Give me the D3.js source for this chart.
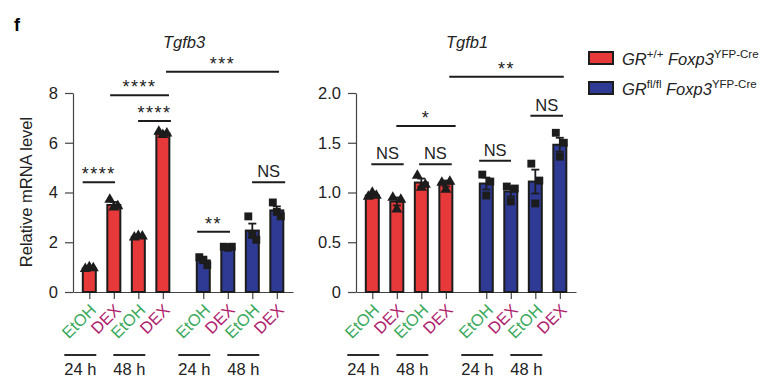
<!DOCTYPE html>
<html>
<head>
<meta charset="utf-8">
<script src="https://cdn.jsdelivr.net/npm/d3@7"></script>
<style>
  body { margin: 0; background: #fff; }
  svg { font-family: "Liberation Sans", Arial, sans-serif; }
</style>
</head>
<body>
<div id="chart"></div>
<script>
// conditions, left to right, same for both panels
const conditions = ["EtOH", "DEX", "EtOH", "DEX", "EtOH", "DEX", "EtOH", "DEX"];
const genotype = ["wt", "wt", "wt", "wt", "ko", "ko", "ko", "ko"];
const timeLabels = ["24 h", "48 h", "24 h", "48 h"];

// Tgfb3
const tgfb3Mean = [0.95, 3.5, 2.22, 6.38, 1.27, 1.8, 2.47, 3.28];
const tgfb3Err = [0.04, 0.12, 0.03, 0.06, 0.11, 0.04, 0.28, 0.16];
const tgfb3Points = [
    [0.93, 1.0, 0.96],
    [3.72, 3.4, 3.45],
    [2.2, 2.26, 2.24],
    [6.45, 6.32, 6.38],
    [1.4, 1.3, 1.08],
    [1.82, 1.78, 1.82],
    [3.04, 2.3, 2.1],
    [3.6, 3.22, 3.04]
];
const tgfb3Ticks = [0, 2, 4, 6, 8];

// Tgfb1
const tgfb1Mean = [0.97, 0.91, 1.1, 1.09, 1.09, 1.01, 1.11, 1.48];
const tgfb1Err = [0.02, 0.04, 0.04, 0.03, 0.06, 0.05, 0.12, 0.07];
const tgfb1Points = [
    [0.96, 1.0, 0.97],
    [0.95, 0.83, 0.93],
    [1.17, 1.05, 1.08],
    [1.1, 1.03, 1.11],
    [1.18, 0.97, 1.11],
    [1.06, 0.91, 1.04],
    [1.29, 0.89, 1.12],
    [1.6, 1.36, 1.5]
];
const tgfb1Ticks = [0, 0.5, 1.0, 1.5, 2.0];

// significance brackets: from / to in bar-slot units, level in data units
const tgfb3Sig = [
    { from: -0.27, to: 1.05, level: 4.41, label: "****" },
    { from: 1.99, to: 3.33, level: 6.87, label: "****" },
    { from: 0.85, to: 3.25, level: 7.91, label: "****" },
    { from: 3.13, to: 7.74, level: 8.85, label: "***" },
    { from: 4.4, to: 5.74, level: 2.42, label: "**" },
    { from: 6.64, to: 7.99, level: 4.41, label: "NS" }
];
const tgfb1Sig = [
    { from: -0.04, to: 1.28, level: 1.283, label: "NS" },
    { from: 1.91, to: 3.24, level: 1.283, label: "NS" },
    { from: 4.36, to: 5.66, level: 1.32, label: "NS" },
    { from: 0.98, to: 3.4, level: 1.668, label: "*" },
    { from: 3.14, to: 7.81, level: 2.164, label: "**" },
    { from: 6.45, to: 7.78, level: 1.772, label: "NS" }
];

const slots = [0, 1, 2, 3, 4.65, 5.65, 6.65, 7.65];
const colors = { wt: "#e8393a", ko: "#2e3a94" };
const labelColors = { EtOH: "#3aa95c", DEX: "#b01d6e" };
const ink = "#1c1c1c";

const svg = d3.select("#chart")
    .append("svg")
    .attr("width", 769)
    .attr("height", 377);

svg.append("text")
    .attr("x", 14)
    .attr("y", 31)
    .attr("font-weight", "bold")
    .attr("font-size", 18)
    .text("f");

function drawPanel(opt) {
    const g = svg.append("g");
    const yScale = d3.scaleLinear().domain([0, opt.max]).range([292, 93]);
    const xScale = d3.scaleLinear().domain([-0.665, 8.31]).range([opt.left, opt.left + 220]);

    // y axis
    const yAxis = g.append("g")
        .attr("transform", `translate(${opt.left},0)`)
        .call(d3.axisLeft(yScale).tickValues(opt.ticks).tickFormat(opt.fmt)
            .tickSize(8).tickSizeOuter(0).tickPadding(7));
    yAxis.selectAll("text").attr("font-size", 16.5).attr("fill", "#222");
    yAxis.selectAll("path, line").attr("stroke", "#444").attr("stroke-width", 1.2);

    // x axis
    const xAxis = g.append("g")
        .attr("transform", "translate(0,292)")
        .call(d3.axisBottom(xScale).tickValues(slots).tickFormat("")
            .tickSize(7).tickSizeOuter(0));
    xAxis.selectAll("path, line").attr("stroke", "#444").attr("stroke-width", 1.2);

    const barW = 13;

    // bars
    g.selectAll(".bar")
        .data(opt.mean)
        .enter()
        .append("rect")
        .attr("x", (d, i) => xScale(slots[i]) - barW / 2)
        .attr("y", d => yScale(d))
        .attr("width", barW)
        .attr("height", d => yScale(0) - yScale(d))
        .attr("fill", (d, i) => colors[genotype[i]])
        .attr("stroke", ink)
        .attr("stroke-width", 2);

    // error bars
    opt.mean.forEach((m, i) => {
        const cx = xScale(slots[i]);
        const e = opt.err[i];
        g.append("line")
            .attr("x1", cx).attr("x2", cx)
            .attr("y1", yScale(m - e)).attr("y2", yScale(m + e))
            .attr("stroke", ink).attr("stroke-width", 1.8);
        [m - e, m + e].forEach(v => {
            g.append("line")
                .attr("x1", cx - 4).attr("x2", cx + 4)
                .attr("y1", yScale(v)).attr("y2", yScale(v))
                .attr("stroke", ink).attr("stroke-width", 1.8);
        });
    });

    // individual points
    const jitter = [-4, 0, 4];
    opt.points.forEach((pts, i) => {
        const shape = genotype[i] === "wt" ? d3.symbolTriangle : d3.symbolSquare;
        const size = genotype[i] === "wt" ? 52 : 62;
        g.selectAll(null)
            .data(pts)
            .enter()
            .append("path")
            .attr("d", d3.symbol().type(shape).size(size))
            .attr("transform", (d, j) => `translate(${xScale(slots[i]) + jitter[j]},${yScale(d)})`)
            .attr("fill", ink);
    });

    // condition labels
    g.selectAll(".cond")
        .data(conditions)
        .enter()
        .append("text")
        .attr("transform", (d, i) => `translate(${xScale(slots[i]) + 8},311) rotate(-45)`)
        .attr("text-anchor", "end")
        .attr("font-size", 16.5)
        .attr("fill", d => labelColors[d])
        .text(d => d);

    // time groups
    timeLabels.forEach((t, k) => {
        const x0 = xScale(slots[k * 2]) - 25;
        g.append("line")
            .attr("x1", x0).attr("x2", x0 + 32)
            .attr("y1", 355).attr("y2", 355)
            .attr("stroke", "#2a2a2a").attr("stroke-width", 2);
        g.append("text")
            .attr("x", x0 + 16)
            .attr("y", 375)
            .attr("text-anchor", "middle")
            .attr("font-size", 16.5)
            .attr("fill", "#222")
            .text(t);
    });

    // significance
    opt.sig.forEach(s => {
        const y = yScale(s.level);
        g.append("line")
            .attr("x1", xScale(s.from)).attr("x2", xScale(s.to))
            .attr("y1", y).attr("y2", y)
            .attr("stroke", ink).attr("stroke-width", 2);
        const isStar = s.label.indexOf("*") >= 0;
        g.append("text")
            .attr("x", (xScale(s.from) + xScale(s.to)) / 2)
            .attr("y", isStar ? y - 2 : y - 5)
            .attr("text-anchor", "middle")
            .attr("font-size", isStar ? 18 : 16.5)
            .attr("letter-spacing", isStar ? 1.5 : 0)
            .attr("fill", "#222")
            .text(s.label);
    });

    // title
    g.append("text")
        .attr("x", opt.titleX)
        .attr("y", 48)
        .attr("text-anchor", "middle")
        .attr("font-style", "italic")
        .attr("font-size", 16.5)
        .attr("fill", "#222")
        .text(opt.title);
}

drawPanel({
    left: 73, max: 8, ticks: tgfb3Ticks, fmt: d3.format("d"),
    mean: tgfb3Mean, err: tgfb3Err, points: tgfb3Points, sig: tgfb3Sig,
    title: "Tgfb3", titleX: 184
});
drawPanel({
    left: 356, max: 2, ticks: tgfb1Ticks, fmt: d => d === 0 ? "0" : d3.format(".1f")(d),
    mean: tgfb1Mean, err: tgfb1Err, points: tgfb1Points, sig: tgfb1Sig,
    title: "Tgfb1", titleX: 467
});

// y label
svg.append("text")
    .attr("transform", "translate(32,192) rotate(-90)")
    .attr("text-anchor", "middle")
    .attr("font-size", 16.5)
    .attr("fill", "#222")
    .text("Relative mRNA level");

// legend
const legend = svg.append("g");
const legendItems = [
    { key: "wt", sup1: "+/+", y: 58 },
    { key: "ko", sup1: "fl/fl", y: 88 }
];
legendItems.forEach(item => {
    legend.append("rect")
        .attr("x", 589).attr("y", item.y - 6)
        .attr("width", 24).attr("height", 12)
        .attr("fill", colors[item.key])
        .attr("stroke", ink).attr("stroke-width", 2);
    const t = legend.append("text")
        .attr("x", 622).attr("y", item.y + 6.5)
        .attr("font-size", 16.5)
        .attr("fill", "#222");
    t.append("tspan").attr("font-style", "italic").text("GR");
    t.append("tspan").attr("font-size", 11.5).attr("dy", -7).text(item.sup1);
    t.append("tspan").attr("font-style", "italic").attr("dy", 7).text(" Foxp3");
    t.append("tspan").attr("font-size", 11.5).attr("dy", -7).text("YFP-Cre");
});
</script>
</body>
</html>
